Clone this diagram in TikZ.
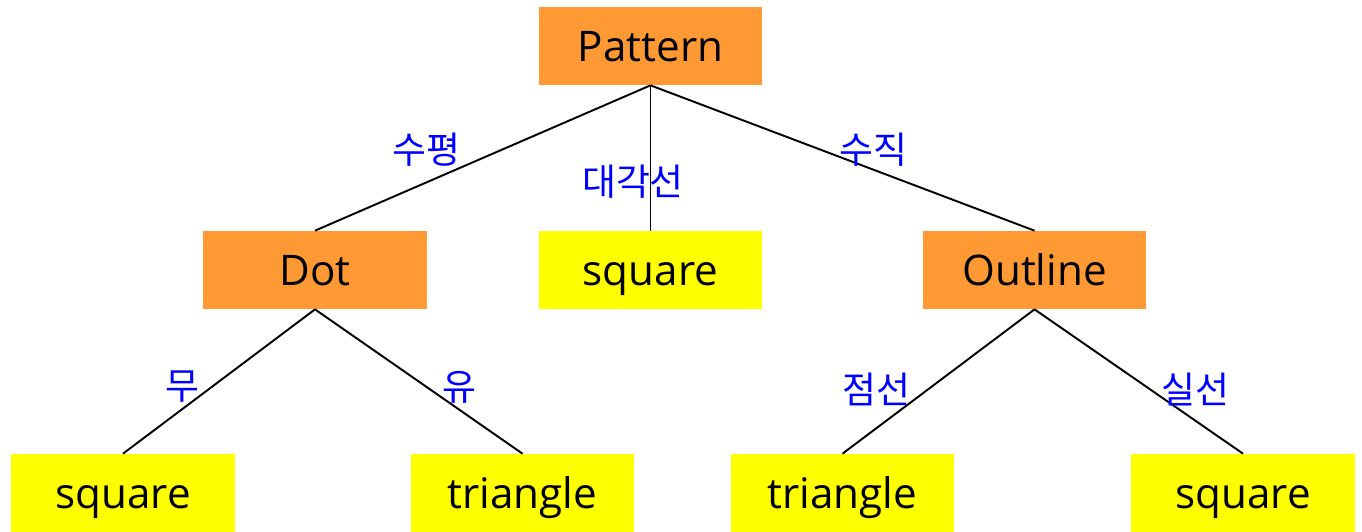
\documentclass[tikz,border=0pt]{standalone}
\usepackage{fontspec}
\setmainfont{Open Sans}
\newfontfamily\kofont{Noto Sans CJK KR}
\usetikzlibrary{positioning}
\definecolor{catorange}{RGB}{255,153,51}
\definecolor{leafyellow}{RGB}{255,255,0}

\begin{document}
\begin{tikzpicture}[x=0.02cm,y=-0.02cm,
  catbox/.style={fill=catorange,minimum width=4.48cm,minimum height=1.56cm,inner sep=0pt,
    text height=17.1pt,text depth=0pt,font=\fontsize{24}{28}\selectfont},
  leafbox/.style={catbox,fill=leafyellow},
  lbl/.style={text=blue,inner sep=0pt,font=\kofont\fontsize{21}{25}\selectfont},
  branch/.style={line width=1.1pt}]
\useasboundingbox (0,0) rectangle (1362,531);
% boxes
\node[catbox] (pat) at (650.5,46) {Pattern};
\node[catbox] (dot) at (315,270) {Dot};
\node[leafbox] (sqmid) at (650.5,270) {square};
\node[catbox] (outl) at (1034.5,270) {Outline};
\node[leafbox] (sqa) at (123,493) {square};
\node[leafbox] (tria) at (522.5,493) {triangle};
\node[leafbox] (trib) at (842.5,493) {triangle};
\node[leafbox] (sqb) at (1243,493) {square};
% branches
\draw[branch] (pat.south) -- (dot.north);
\draw[branch] (pat.south) -- (sqmid.north);
\draw[branch] (pat.south) -- (outl.north);
\draw[branch] (dot.south) -- (sqa.north);
\draw[branch] (dot.south) -- (tria.north);
\draw[branch] (outl.south) -- (trib.north);
\draw[branch] (outl.south) -- (sqb.north);
% labels
\node[lbl] (horiz) at (426,150) {수평};
\node[lbl] (diag) at (633,182) {대각선};
\node[lbl] (vert) at (873,150) {수직};
\node[lbl] (none) at (182,387) {무};
\node[lbl] (some) at (459,387) {유};
\node[lbl] (dotted) at (876,389) {점선};
\node[lbl] (solid) at (1195,389) {실선};
\end{tikzpicture}
\end{document}
